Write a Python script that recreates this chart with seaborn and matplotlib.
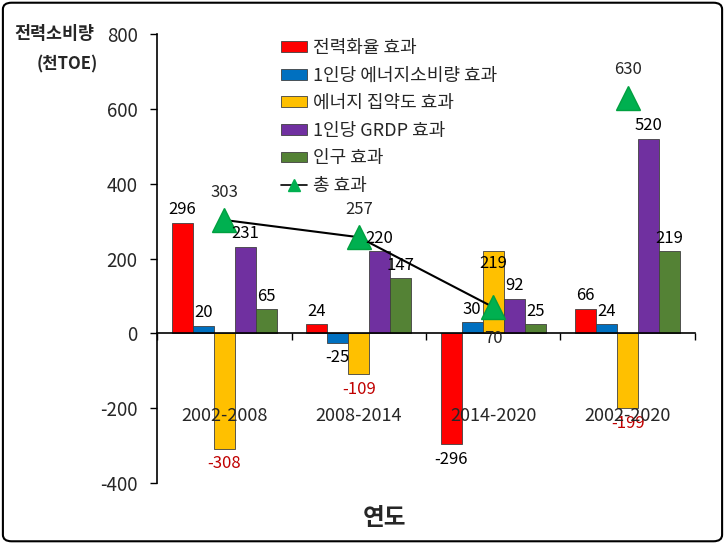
#!/usr/bin/env python3
"""
Decomposition of electricity consumption change by period (grouped bars + total effect).
"""

import matplotlib
matplotlib.use("Agg")
import matplotlib.pyplot as plt
from matplotlib.lines import Line2D
from matplotlib.patches import FancyBboxPatch, Patch
import pandas as pd
import seaborn as sns


periods = ["2002-2008", "2008-2014", "2014-2020", "2002-2020"]
effects = ["전력화율 효과", "1인당 에너지소비량 효과", "에너지 집약도 효과", "1인당 GRDP 효과", "인구 효과"]

electrification = [296, 24, -296, 66]
per_capita_energy = [20, -25, 30, 24]
energy_intensity = [-308, -109, 219, -199]
per_capita_grdp = [231, 220, 92, 520]
population = [65, 147, 25, 219]
total_effect = [303, 257, 70, 630]

colors = ["#FF0000", "#0070C0", "#FFC000", "#7030A0", "#548235"]
KFONT = ["Noto Sans CJK KR", "DejaVu Sans"]


def build_frame() -> pd.DataFrame:
    series = [electrification, per_capita_energy, energy_intensity, per_capita_grdp, population]
    rows = []
    for effect, values in zip(effects, series):
        for period, value in zip(periods, values):
            rows.append({"period": period, "effect": effect, "value": value})
    return pd.DataFrame(rows)


def main() -> None:
    sns.set_style("white")
    plt.rcParams["font.family"] = KFONT

    df = build_frame()
    fig = plt.figure(figsize=(7.25, 5.44), dpi=100)
    ax = fig.add_axes([0.2166, 0.112, 0.742, 0.8255])

    sns.barplot(
        data=df, x="period", y="value", hue="effect", order=periods, hue_order=effects,
        palette=colors, saturation=1, width=0.78, edgecolor="#404040", linewidth=0.6,
        ax=ax, legend=False,
    )

    # total effect: line only through the first three periods
    xs = list(range(len(periods)))
    ax.plot(xs[:3], total_effect[:3], color="black", lw=1.5, zorder=4)
    ax.plot(xs, total_effect, ls="none", marker="^", ms=17, color="#00B050",
            markeredgecolor="#00A040", zorder=5)

    # bar value labels
    bar_width = 0.78 / len(effects)
    for j, effect in enumerate(effects):
        sub = df[df["effect"] == effect].set_index("period").loc[periods]
        for i, value in enumerate(sub["value"]):
            x = i - 0.39 + bar_width * (j + 0.5)
            color = "#C00000" if (j == 2 and value < 0) else "black"
            if j == 2 and value > 0:
                y, va = value - 10, "top"
            elif value >= 0:
                y, va = value + 12, "bottom"
            else:
                y, va = value - 18, "top"
            ax.text(x, y, f"{value}", ha="center", va=va, fontsize=12, color=color, zorder=6)

    for i, value in enumerate(total_effect):
        if value < 100:
            ax.text(i, -15, f"{value}", ha="center", va="center", fontsize=12, zorder=6)
        else:
            ax.text(i, value + 52, f"{value}", ha="center", va="bottom", fontsize=12, zorder=6)

    # category names sit inside the plot, below zero
    for i, period in enumerate(periods):
        ax.text(i, -220, period, ha="center", va="center", fontsize=13, zorder=6)

    ax.set_xlim(-0.5, len(periods) - 0.5)
    ax.set_ylim(-400, 800)
    ax.set_yticks(range(-400, 801, 200))
    ax.set_yticklabels([str(v) for v in range(-400, 801, 200)], fontsize=13.5)
    ax.set_xticks([i - 0.5 for i in range(len(periods) + 1)])
    ax.set_xticklabels([])
    ax.tick_params(axis="both", direction="out", length=5, width=1, color="black",
                   left=True, bottom=True)
    ax.tick_params(axis="y", pad=9)
    ax.spines["bottom"].set_position(("data", 0))
    for side in ["top", "right"]:
        ax.spines[side].set_visible(False)
    for side in ["left", "bottom"]:
        ax.spines[side].set_color("black")
        ax.spines[side].set_linewidth(1.2)
    ax.set_xlabel("")
    ax.set_ylabel("")

    fig.text(0.02, 0.938, "전력소비량", fontsize=12.5, fontweight="bold", va="center", ha="left")
    fig.text(0.05, 0.882, "(천TOE)", fontsize=12, fontweight="bold", va="center", ha="left")
    fig.text(0.53, 0.047, "연도", fontsize=17, fontweight="bold", va="center", ha="center")

    handles = [Patch(facecolor=c, edgecolor="#404040", linewidth=0.6) for c in colors]
    handles.append(Line2D([], [], color="black", lw=1.2, marker="^", ms=9,
                          markerfacecolor="#00B050", markeredgecolor="#00B050"))
    ax.legend(handles, effects + ["총 효과"], loc="upper left", bbox_to_anchor=(0.388, 0.928),
              bbox_transform=fig.transFigure, frameon=False, fontsize=13,
              handlelength=1.45, handleheight=0.55, handletextpad=0.3, labelspacing=0.53,
              borderaxespad=0, borderpad=0)

    fig.patches.append(FancyBboxPatch(
        (0.004, 0.005), 0.992, 0.99, boxstyle="round,pad=0,rounding_size=0.012",
        transform=fig.transFigure, fill=False, edgecolor="black", linewidth=1.5))

    fig.savefig("out.png", dpi=100)
    plt.close(fig)


if __name__ == "__main__":
    main()
